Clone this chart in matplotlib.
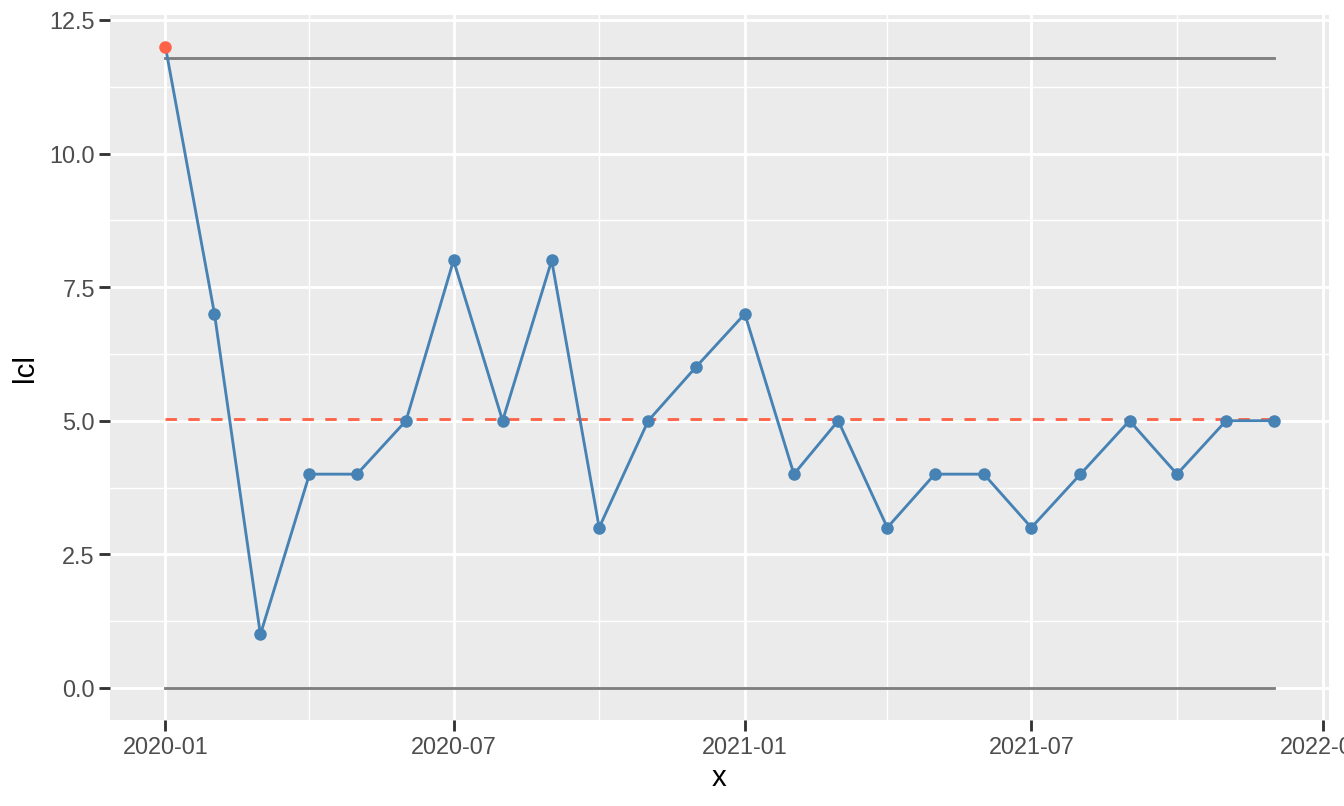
import matplotlib
matplotlib.use("Agg")
import matplotlib.pyplot as plt
import matplotlib.dates as mdates
import numpy as np
import pandas as pd

dates = pd.date_range("2020-01-01", periods=24, freq="MS")
values = [12, 7, 1, 4, 4, 5, 8, 5, 8, 3, 5, 6,
          7, 4, 5, 3, 4, 4, 3, 4, 5, 4, 5, 5]
center = 5.04
ucl = 11.78
lcl = 0.0
x_ticks = pd.to_datetime(["2020-01-01", "2020-07-01", "2021-01-01", "2021-07-01", "2022-01-01"])
x_minor = pd.to_datetime(["2020-04-01", "2020-10-01", "2021-04-01", "2021-10-01"])
y_ticks = [0.0, 2.5, 5.0, 7.5, 10.0, 12.5]
y_minor = [1.25, 3.75, 6.25, 8.75, 11.25]

plt.rcParams['font.family'] = ['Liberation Sans', 'DejaVu Sans']

fig = plt.figure(figsize=(7, 4.2), dpi=192)
ax = fig.add_axes([110/1344, 1-720/806, (1329-110)/1344, (720-15)/806])
ax.set_facecolor("#EBEBEB")
for s in ax.spines.values():
    s.set_visible(False)

ax.set_xticks(x_minor, minor=True)
ax.set_yticks(y_minor, minor=True)
ax.grid(which="major", color="white", linewidth=1.07)
ax.grid(which="minor", color="white", linewidth=0.53)
ax.set_axisbelow(True)

ax.plot([dates[0], dates[-1]], [ucl, ucl], color="#7F7F7F", lw=1.07)
ax.plot([dates[0], dates[-1]], [lcl, lcl], color="#7F7F7F", lw=1.07)
ax.plot([dates[0], dates[-1]], [center, center], color="tomato", lw=1.07,
        dashes=(4, 4))
ax.plot(dates, values, color="steelblue", lw=1.07)
vals = np.array(values)
out = (vals > ucl) | (vals < lcl)
ax.plot(dates[~out], vals[~out], 'o', color="steelblue", ms=4.7, mec="none")
ax.plot(dates[out], vals[out], 'o', color="tomato", ms=4.7, mec="none")

span = (dates[-1] - dates[0]) * 0.05
ax.set_xlim(dates[0] - span, dates[-1] + span)
ax.set_ylim(-0.6, 12.6)
ax.set_xticks(x_ticks)
ax.xaxis.set_major_formatter(mdates.DateFormatter("%Y-%m"))
ax.set_yticks(y_ticks)
ax.set_yticklabels([f"{v:.1f}" for v in y_ticks])
ax.tick_params(which="major", length=4.2, width=1.07, color="#333333",
               labelcolor="#4D4D4D", labelsize=8.8, pad=1.5)
ax.tick_params(which="minor", length=0)
ax.set_xlabel("x", fontsize=11, color="black", labelpad=2)
ax.set_ylabel("lcl", fontsize=11, color="black", labelpad=4)

fig.savefig("out.png", dpi=192)
